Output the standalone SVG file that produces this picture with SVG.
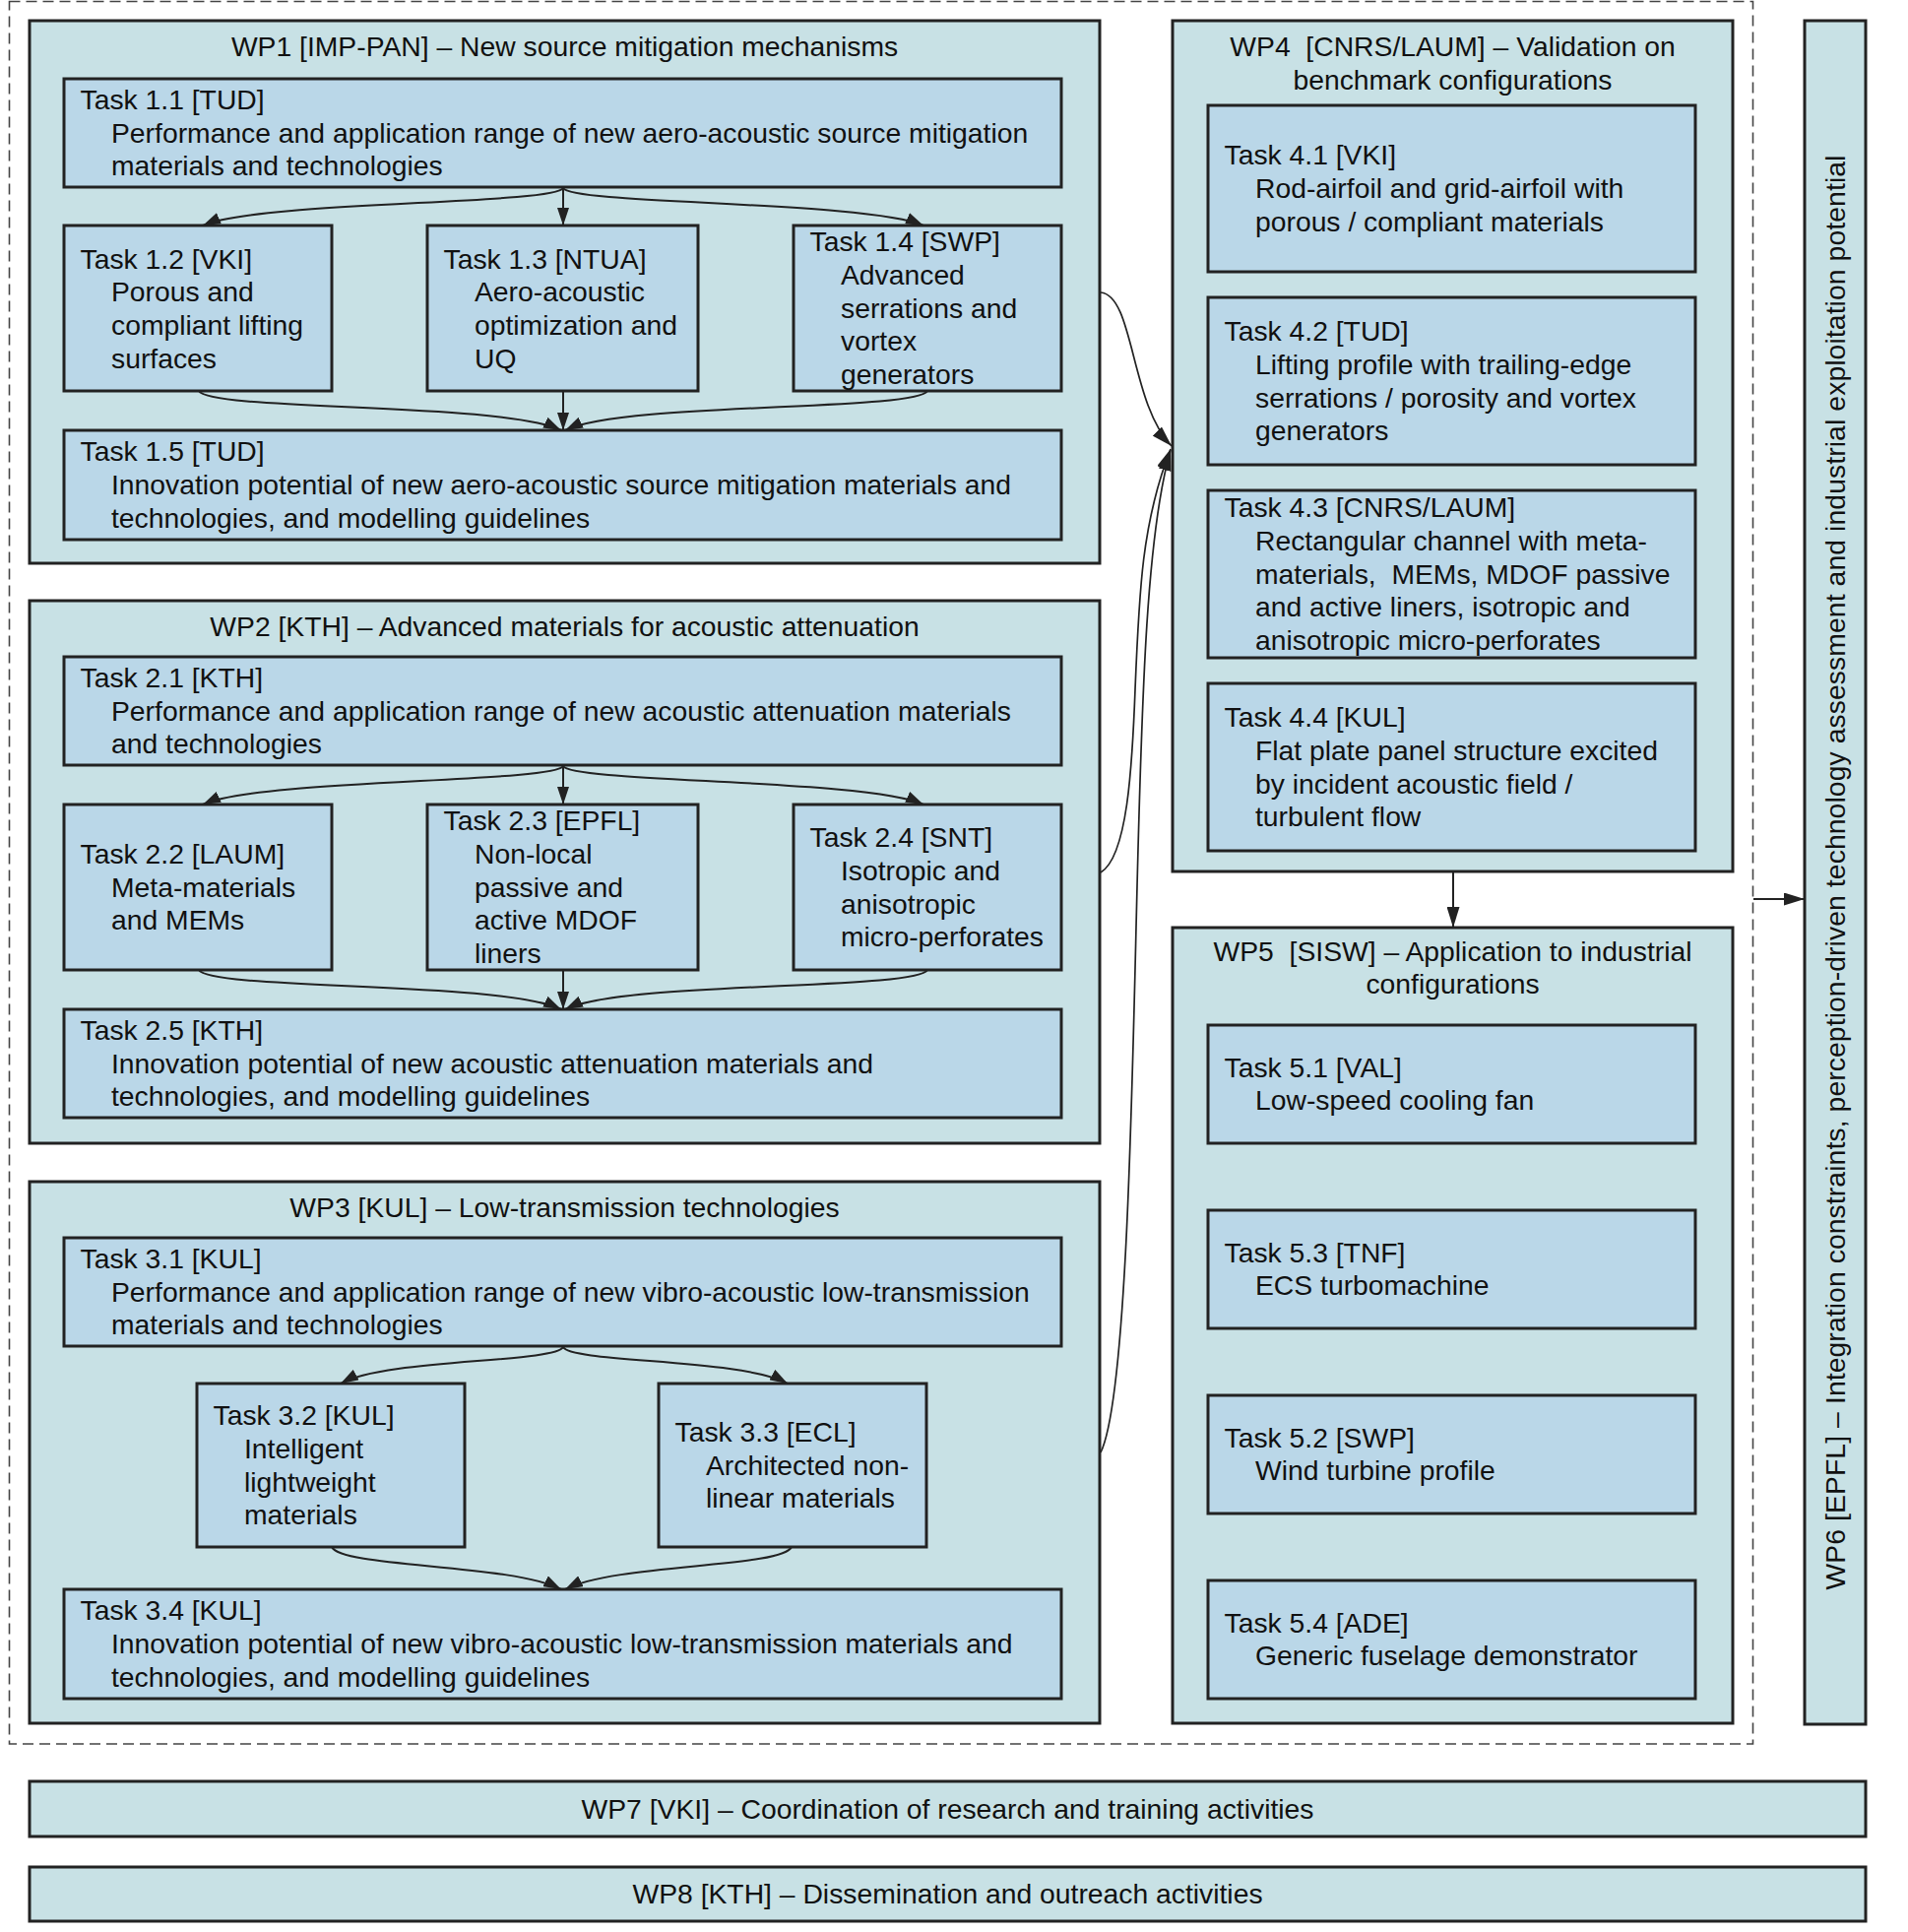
<svg xmlns="http://www.w3.org/2000/svg" width="1938" height="1962" viewBox="0 0 1938 1962">
<style>
.wp{fill:#C8E1E5;stroke:#222;stroke-width:3}
.task{fill:#BAD7E8;stroke:#222;stroke-width:3}
text{font-family:"Liberation Sans",Arial,Helvetica,sans-serif;font-size:28.3px;fill:#111;white-space:pre}
.c{text-anchor:middle}
.edge{fill:none;stroke:#222;stroke-width:2}
.long{fill:none;stroke:#222;stroke-width:1.7}
.dash{fill:none;stroke:#444;stroke-width:1.6;stroke-dasharray:11 6}
</style>
<defs>
<marker id="ah" markerUnits="userSpaceOnUse" markerWidth="19" markerHeight="12" refX="18" refY="6" orient="auto" viewBox="0 0 19 12">
<path d="M0,0 L18,6 L0,12 z" fill="#222"/>
</marker>
<marker id="ahb" markerUnits="userSpaceOnUse" markerWidth="22" markerHeight="13" refX="21" refY="6.5" orient="auto" viewBox="0 0 22 13">
<path d="M0,0 L21,6.5 L0,13 z" fill="#222"/>
</marker>
</defs>
<rect width="1938" height="1962" fill="#fff"/>
<rect id="scope" class="dash" x="9.5" y="1.5" width="1771" height="1769.5"/>

<g id="wp1">
<rect class="wp" x="30" y="21" width="1087" height="551"/>
<text class="c" x="573.5" y="57">WP1 [IMP-PAN] – New source mitigation mechanisms</text>
</g>
<g id="t11"><rect class="task" x="65" y="80" width="1013" height="110"/>
<text x="81.5" y="110.75">Task 1.1 [TUD]</text><text x="113" y="144.5">Performance and application range of new aero-acoustic source mitigation</text><text x="113" y="178.25">materials and technologies</text></g>
<g id="t12"><rect class="task" x="65" y="229" width="272" height="168"/>
<text x="81.5" y="272.5">Task 1.2 [VKI]</text><text x="113" y="306.25">Porous and</text><text x="113" y="340">compliant lifting</text><text x="113" y="373.75">surfaces</text></g>
<g id="t13"><rect class="task" x="434" y="229" width="275" height="168"/>
<text x="450.5" y="272.5">Task 1.3 [NTUA]</text><text x="482" y="306.25">Aero-acoustic</text><text x="482" y="340">optimization and</text><text x="482" y="373.75">UQ</text></g>
<g id="t14"><rect class="task" x="806" y="229" width="272" height="168"/>
<text x="822.5" y="255">Task 1.4 [SWP]</text><text x="854" y="288.75">Advanced</text><text x="854" y="322.5">serrations and</text><text x="854" y="356.25">vortex</text><text x="854" y="390">generators</text></g>
<g id="t15"><rect class="task" x="65" y="437" width="1013" height="111"/>
<text x="81.5" y="468.25">Task 1.5 [TUD]</text><text x="113" y="502">Innovation potential of new aero-acoustic source mitigation materials and</text><text x="113" y="535.75">technologies, and modelling guidelines</text></g>

<g id="wp2">
<rect class="wp" x="30" y="610" width="1087" height="551"/>
<text class="c" x="573.5" y="646">WP2 [KTH] – Advanced materials for acoustic attenuation</text>
</g>
<g id="t21"><rect class="task" x="65" y="667" width="1013" height="110"/>
<text x="81.5" y="697.75">Task 2.1 [KTH]</text><text x="113" y="731.5">Performance and application range of new acoustic attenuation materials</text><text x="113" y="765.25">and technologies</text></g>
<g id="t22"><rect class="task" x="65" y="817" width="272" height="168"/>
<text x="81.5" y="876.75">Task 2.2 [LAUM]</text><text x="113" y="910.5">Meta-materials</text><text x="113" y="944.25">and MEMs</text></g>
<g id="t23"><rect class="task" x="434" y="817" width="275" height="168"/>
<text x="450.5" y="843">Task 2.3 [EPFL]</text><text x="482" y="876.75">Non-local</text><text x="482" y="910.5">passive and</text><text x="482" y="944.25">active MDOF</text><text x="482" y="978">liners</text></g>
<g id="t24"><rect class="task" x="806" y="817" width="272" height="168"/>
<text x="822.5" y="860">Task 2.4 [SNT]</text><text x="854" y="893.75">Isotropic and</text><text x="854" y="927.5">anisotropic</text><text x="854" y="961.25">micro-perforates</text></g>
<g id="t25"><rect class="task" x="65" y="1025" width="1013" height="110"/>
<text x="81.5" y="1055.75">Task 2.5 [KTH]</text><text x="113" y="1089.5">Innovation potential of new acoustic attenuation materials and</text><text x="113" y="1123.25">technologies, and modelling guidelines</text></g>

<g id="wp3">
<rect class="wp" x="30" y="1200" width="1087" height="550"/>
<text class="c" x="573.5" y="1236">WP3 [KUL] – Low-transmission technologies</text>
</g>
<g id="t31"><rect class="task" x="65" y="1257" width="1013" height="110"/>
<text x="81.5" y="1287.75">Task 3.1 [KUL]</text><text x="113" y="1321.5">Performance and application range of new vibro-acoustic low-transmission</text><text x="113" y="1355.25">materials and technologies</text></g>
<g id="t32"><rect class="task" x="200" y="1405" width="272" height="166"/>
<text x="216.5" y="1447">Task 3.2 [KUL]</text><text x="248" y="1480.75">Intelligent</text><text x="248" y="1514.5">lightweight</text><text x="248" y="1548.25">materials</text></g>
<g id="t33"><rect class="task" x="669" y="1405" width="272" height="166"/>
<text x="685.5" y="1463.75">Task 3.3 [ECL]</text><text x="717" y="1497.5">Architected non-</text><text x="717" y="1531.25">linear materials</text></g>
<g id="t34"><rect class="task" x="65" y="1614" width="1013" height="111"/>
<text x="81.5" y="1645.25">Task 3.4 [KUL]</text><text x="113" y="1679">Innovation potential of new vibro-acoustic low-transmission materials and</text><text x="113" y="1712.75">technologies, and modelling guidelines</text></g>

<g id="wp4">
<rect class="wp" x="1191" y="21" width="569" height="864"/>
<text class="c" x="1475.5" y="57">WP4  [CNRS/LAUM] – Validation on</text>
<text class="c" x="1475.5" y="90.75">benchmark configurations</text>
</g>
<g id="t41"><rect class="task" x="1227" y="107" width="495" height="169"/>
<text x="1243.5" y="167.25">Task 4.1 [VKI]</text><text x="1275" y="201">Rod-airfoil and grid-airfoil with</text><text x="1275" y="234.75">porous / compliant materials</text></g>
<g id="t42"><rect class="task" x="1227" y="302" width="495" height="170"/>
<text x="1243.5" y="346">Task 4.2 [TUD]</text><text x="1275" y="379.75">Lifting profile with trailing-edge</text><text x="1275" y="413.5">serrations / porosity and vortex</text><text x="1275" y="447.25">generators</text></g>
<g id="t43"><rect class="task" x="1227" y="498" width="495" height="170"/>
<text x="1243.5" y="525">Task 4.3 [CNRS/LAUM]</text><text x="1275" y="558.75">Rectangular channel with meta-</text><text x="1275" y="592.5">materials,  MEMs, MDOF passive</text><text x="1275" y="626.25">and active liners, isotropic and</text><text x="1275" y="660">anisotropic micro-perforates</text></g>
<g id="t44"><rect class="task" x="1227" y="694" width="495" height="170"/>
<text x="1243.5" y="738">Task 4.4 [KUL]</text><text x="1275" y="771.75">Flat plate panel structure excited</text><text x="1275" y="805.5">by incident acoustic field /</text><text x="1275" y="839.25">turbulent flow</text></g>

<g id="wp5">
<rect class="wp" x="1191" y="942" width="569" height="808"/>
<text class="c" x="1475.5" y="975.5">WP5  [SISW] – Application to industrial</text>
<text class="c" x="1475.5" y="1009.25">configurations</text>
</g>
<g id="t51"><rect class="task" x="1227" y="1041" width="495" height="120"/>
<text x="1243.5" y="1093.6">Task 5.1 [VAL]</text><text x="1275" y="1127.4">Low-speed cooling fan</text></g>
<g id="t53"><rect class="task" x="1227" y="1229" width="495" height="120"/>
<text x="1243.5" y="1281.6">Task 5.3 [TNF]</text><text x="1275" y="1315.4">ECS turbomachine</text></g>
<g id="t52"><rect class="task" x="1227" y="1417" width="495" height="120"/>
<text x="1243.5" y="1469.6">Task 5.2 [SWP]</text><text x="1275" y="1503.4">Wind turbine profile</text></g>
<g id="t54"><rect class="task" x="1227" y="1605" width="495" height="120"/>
<text x="1243.5" y="1657.6">Task 5.4 [ADE]</text><text x="1275" y="1691.4">Generic fuselage demonstrator</text></g>

<g id="wp6">
<rect class="wp" x="1833" y="21" width="62" height="1730"/>
<text class="c" transform="translate(1874,886) rotate(-90)" style="letter-spacing:0.1px">WP6 [EPFL] – Integration constraints, perception-driven technology assessment and industrial exploitation potential</text>
</g>
<g id="wp7">
<rect class="wp" x="30" y="1809" width="1865" height="56"/>
<text class="c" x="962.5" y="1846.5">WP7 [VKI] – Coordination of research and training activities</text>
</g>
<g id="wp8">
<rect class="wp" x="30" y="1896" width="1865" height="55"/>
<text class="c" x="962.5" y="1933">WP8 [KTH] – Dissemination and outreach activities</text>
</g>

<g id="connectors">
<path class="edge" marker-end="url(#ah)" d="M572,191 C562,208 262,204 206,229"/>
<path class="edge" marker-end="url(#ah)" d="M572,191 L572,229"/>
<path class="edge" marker-end="url(#ah)" d="M572,191 C582,208 882,204 938,229"/>
<path class="edge" marker-end="url(#ah)" d="M202,397 C214,418 510,408 570,437"/>
<path class="edge" marker-end="url(#ah)" d="M572,397 L572,437"/>
<path class="edge" marker-end="url(#ah)" d="M942,397 C930,418 634,408 574,437"/>

<path class="edge" marker-end="url(#ah)" d="M572,778 C562,795 262,791 206,817"/>
<path class="edge" marker-end="url(#ah)" d="M572,778 L572,817"/>
<path class="edge" marker-end="url(#ah)" d="M572,778 C582,795 882,791 938,817"/>
<path class="edge" marker-end="url(#ah)" d="M202,985 C214,1006 510,996 570,1025"/>
<path class="edge" marker-end="url(#ah)" d="M572,985 L572,1025"/>
<path class="edge" marker-end="url(#ah)" d="M942,985 C930,1006 634,996 574,1025"/>

<path class="edge" marker-end="url(#ah)" d="M572,1368 C564,1384 390,1380 346,1405"/>
<path class="edge" marker-end="url(#ah)" d="M572,1368 C580,1384 756,1380 800,1405"/>
<path class="edge" marker-end="url(#ah)" d="M337,1571 C346,1592 520,1588 570,1614"/>
<path class="edge" marker-end="url(#ah)" d="M804,1571 C795,1592 624,1588 574,1614"/>

<path class="long" marker-end="url(#ahb)" d="M1118,297 C1152,300 1148,410 1190,453"/>
<path class="long" marker-end="url(#ahb)" d="M1118,886 C1145,870 1150,780 1153,700 C1157,600 1160,530 1189,456"/>
<path class="long" marker-end="url(#ahb)" d="M1118,1475 C1145,1420 1150,1100 1155,900 C1160,700 1165,540 1189,457"/>
<path class="edge" marker-end="url(#ahb)" d="M1476,886 L1476,942"/>
<path class="edge" marker-end="url(#ahb)" d="M1781,913 L1833,913"/>
</g>
</svg>
